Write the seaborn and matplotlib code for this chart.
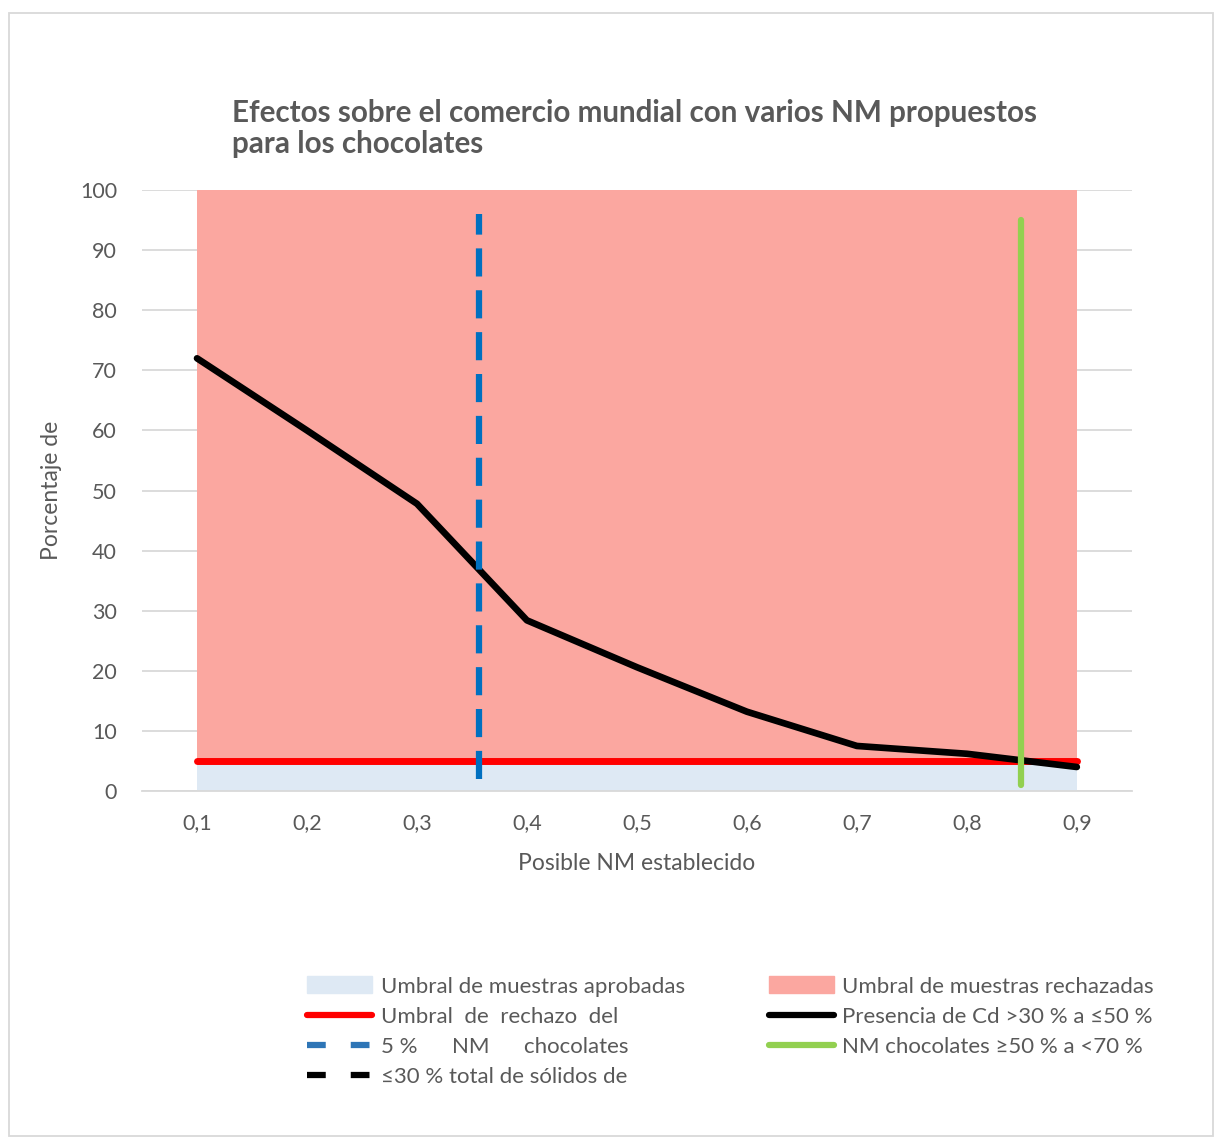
import numpy as np
import pandas as pd
import matplotlib
matplotlib.use("Agg")
import matplotlib.pyplot as plt
import seaborn as sns
from matplotlib.lines import Line2D
from matplotlib.patches import Patch, Rectangle

# Datos
nm = [0.1, 0.2, 0.3, 0.4, 0.5, 0.6, 0.7, 0.8, 0.9]
presencia_cd = [72.0, 60.0, 47.8, 28.4, 20.6, 13.2, 7.5, 6.2, 4.0]
umbral_rechazo = 5
linea_azul_x = 0.356
linea_azul_y = [2, 96]
linea_verde_x = 0.849
linea_verde_y = [1, 95]
xticks = [0.1, 0.2, 0.3, 0.4, 0.5, 0.6, 0.7, 0.8, 0.9]
xtick_labels = ["0,1", "0,2", "0,3", "0,4", "0,5", "0,6", "0,7", "0,8", "0,9"]

sns.set_style("white")
plt.rcParams['font.family'] = ['Lato', 'DejaVu Sans']

gris = '#595959'
rosa = '#FBA7A0'
celeste = '#DEE9F4'
rojo = '#FF0000'
azul = '#0070C0'
verde = '#92D050'

fig = plt.figure(figsize=(12.17, 11.38), dpi=100)
ax = fig.add_axes([0.1167, 0.3049, 0.8133, 0.5281])

df = pd.DataFrame({'nm': nm, 'cd': presencia_cd})

# áreas
ax.fill_between(nm, umbral_rechazo, 100, color=rosa, lw=0, zorder=1)
ax.fill_between(nm, 0, umbral_rechazo, color=celeste, lw=0, zorder=1)

# línea roja del umbral
ax.plot([nm[0], nm[-1]], [umbral_rechazo, umbral_rechazo], color=rojo, lw=5, zorder=3)

# línea negra
sns.lineplot(data=df, x='nm', y='cd', color='black', lw=4.8, ax=ax, zorder=4)

# líneas verticales
ax.plot([linea_azul_x, linea_azul_x], linea_azul_y, color=azul, lw=4.5,
        dashes=(4.5, 2.2), zorder=5)
ax.plot([linea_verde_x, linea_verde_x], linea_verde_y, color=verde, lw=4.5, zorder=5)

ax.set_xlim(0.05, 0.95)
ax.set_ylim(0, 100)
ax.set_yticks(range(0, 101, 10))
ax.set_xticks(xticks)
ax.set_xticklabels(xtick_labels)
ax.yaxis.grid(True, color='#D9D9D9', lw=1.3, zorder=0)
ax.set_axisbelow(True)
for s in ['top', 'right', 'left']:
    ax.spines[s].set_visible(False)
ax.spines['bottom'].set_color('#D9D9D9')
ax.spines['bottom'].set_linewidth(1.3)
ax.tick_params(axis='both', length=0, labelsize=15.5, colors=gris)
ax.tick_params(axis='x', pad=16)
ax.tick_params(axis='y', pad=18)
ax.set_xlabel('Posible NM establecido', fontsize=16.5, color=gris, labelpad=14)
ax.set_ylabel('Porcentaje de', fontsize=16.5, color=gris, labelpad=13)

fig.text(0.1906, 0.8875, 'Efectos sobre el comercio mundial con varios NM propuestos\npara los chocolates',
         fontsize=21.3, fontweight='bold', color=gris, va='center', ha='left', linespacing=1.13)

handles = [
    Patch(color=celeste),
    Line2D([], [], color=rojo, lw=4.5),
    Line2D([], [], color='#2E75B6', lw=4.5, dashes=(3, 4)),
    Line2D([], [], color='black', lw=4.5, dashes=(3, 4)),
    Patch(color=rosa),
    Line2D([], [], color='black', lw=4.5),
    Line2D([], [], color=verde, lw=4.5),
]
labels = [
    'Umbral de muestras aprobadas',
    'Umbral  de  rechazo  del',
    '5 %      NM      chocolates',
    '≤30 % total de sólidos de',
    'Umbral de muestras rechazadas',
    'Presencia de Cd >30 % a ≤50 %',
    'NM chocolates ≥50 % a <70 %',
]
leg = fig.legend(handles, labels, ncol=2, loc='upper left', bbox_to_anchor=(0.236, 0.1595),
                 frameon=False, fontsize=16, handlelength=2.9, handleheight=0.8,
                 columnspacing=3.8, labelspacing=0.45, handletextpad=0.4)
for t in leg.get_texts():
    t.set_color(gris)

fig.patches.append(Rectangle((0.007, 0.002), 0.99, 0.987, transform=fig.transFigure,
                             fill=False, ec='#D9D9D9', lw=1.3))

fig.savefig('out.png', dpi=100)
